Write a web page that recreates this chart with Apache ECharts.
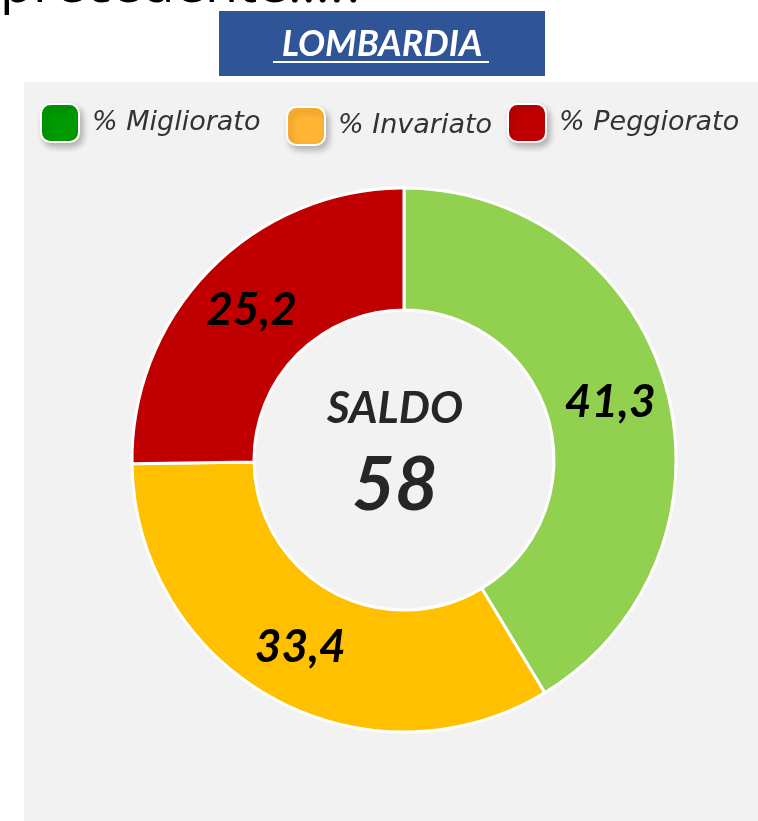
<!DOCTYPE html>
<html><head><meta charset="utf-8">
<script src="https://cdn.jsdelivr.net/npm/echarts@6/dist/echarts.min.js"></script>
<style>html,body{margin:0;padding:0;background:#fff;}#c{width:758px;height:821px;}</style>
</head><body><div id="c"></div>
<script>
const categories = ['% Migliorato', '% Invariato', '% Peggiorato'];
const values = [41.3, 33.4, 25.2];
const sliceColors = ['#92D050', '#FFC000', '#C00000'];
const legendColors = ['#009900', '#FFB533', '#C00000'];
const regionTitle = 'LOMBARDIA';
const centerLabel = 'SALDO';
const centerValue = '58';
const headerText = 'precedente….?';

const FONT = 'Lato, "Open Sans", sans-serif';
const LEGFONT = '"DejaVu Sans", sans-serif';
const chart = echarts.init(document.getElementById('c'), null, {renderer: 'canvas'});

const legendPos = [{left: 40, top: 103}, {left: 286, top: 106}, {left: 507, top: 103}];
const legends = categories.map((name, i) => ({
  left: legendPos[i].left, top: legendPos[i].top, padding: 0,
  icon: 'roundRect', itemWidth: 38, itemHeight: 38, selectedMode: false,
  data: [{name: name, itemStyle: {color: legendColors[i], shadowBlur: 6, shadowColor: 'rgba(0,0,0,0.25)', shadowOffsetY: 4, shadowOffsetX: 3}}],
  textStyle: {fontFamily: LEGFONT, fontStyle: 'italic', fontSize: 27, color: '#333', padding: [0, 0, 0, 8]}
}));

chart.setOption({
  backgroundColor: '#fff',
  animation: false,
  legend: legends,
  graphic: [
    {type: 'rect', silent: true, z: -10, shape: {x: 24, y: 82, width: 734, height: 739}, style: {fill: '#F2F2F2'}},
    {type: 'text', x: 0, y: 14, z: -5, style: {text: headerText, font: '54px "Open Sans", sans-serif', fill: '#000', textVerticalAlign: 'bottom', textAlign: 'left'}},
    {type: 'rect', z: 1, shape: {x: 219, y: 11, width: 326, height: 65}, style: {fill: '#2F5597'}},
    {type: 'text', z: 2, x: 382, y: 44, style: {text: regionTitle, font: 'italic bold 36px ' + FONT, fill: '#fff', textAlign: 'center', textVerticalAlign: 'middle'}},
    {type: 'line', z: 2, shape: {x1: 273, y1: 62, x2: 489, y2: 62}, style: {stroke: '#fff', lineWidth: 2}},
    {type: 'text', x: 395, y: 409, z: 10, style: {text: centerLabel, font: 'italic bold 44px ' + FONT, fill: '#262626', textAlign: 'center', textVerticalAlign: 'middle'}},
    {type: 'text', x: 395, y: 486, z: 10, style: {text: centerValue, font: 'italic bold 74px ' + FONT, fill: '#262626', textAlign: 'center', textVerticalAlign: 'middle'}}
  ],
  series: [{
    type: 'pie',
    center: [404, 460],
    radius: [150, 272],
    startAngle: 90,
    clockwise: true,
    avoidLabelOverlap: false,
    itemStyle: {borderColor: '#fff', borderWidth: 3},
    label: {
      show: true, position: 'inside',
      formatter: p => String(p.value).replace('.', ','),
      fontFamily: FONT, fontStyle: 'italic', fontWeight: 'bold', fontSize: 46, color: '#000'
    },
    labelLine: {show: false},
    emphasis: {disabled: true},
    data: categories.map((n, i) => ({name: n, value: values[i], itemStyle: {color: sliceColors[i]}}))
  }]
});
</script></body></html>
